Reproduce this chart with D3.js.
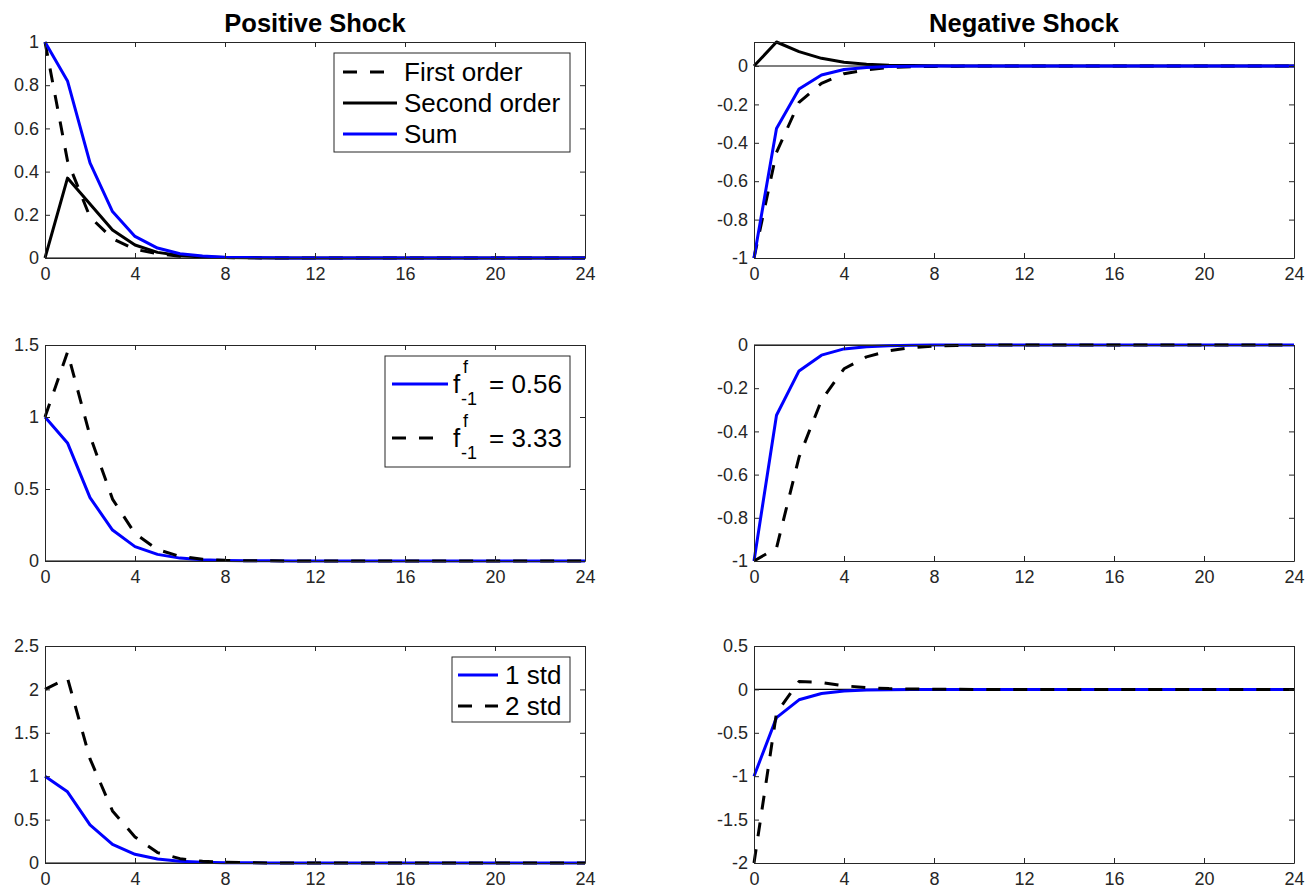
<!DOCTYPE html>
<html>
<head>
<meta charset="utf-8">
<script src="https://cdn.jsdelivr.net/npm/d3@7"></script>
<style>
  body { margin: 0; background: #fff; }
  text { font-family: "Liberation Sans", Arial, Helvetica, sans-serif; }
</style>
</head>
<body>
<div id="chart-area"></div>
<script>
// horizons (x axis)
var horizons = [0,1,2,3,4,5,6,7,8,9,10,11,12,13,14,15,16,17,18,19,20,21,22,23,24];
var xTicks = [0,4,8,12,16,20,24];

// positive shock, first row
var posFirst  = [1,0.45,0.19,0.09,0.04,0.02,0.008,0.004,0.002,0.001,0,0,0,0,0,0,0,0,0,0,0,0,0,0,0];
var posSecond = [0,0.37,0.25,0.13,0.06,0.026,0.012,0.005,0.002,0.001,0,0,0,0,0,0,0,0,0,0,0,0,0,0,0];
var posSum    = [1,0.82,0.44,0.215,0.1,0.046,0.02,0.009,0.004,0.002,0.001,0,0,0,0,0,0,0,0,0,0,0,0,0,0];

// negative shock, first row
var negFirst  = [-1,-0.45,-0.19,-0.09,-0.04,-0.02,-0.008,-0.004,-0.002,-0.001,0,0,0,0,0,0,0,0,0,0,0,0,0,0,0];
var negSecond = [0,0.125,0.075,0.04,0.02,0.009,0.004,0.002,0.001,0,0,0,0,0,0,0,0,0,0,0,0,0,0,0,0];
var negSum    = [-1,-0.325,-0.12,-0.047,-0.018,-0.008,-0.003,-0.001,0,0,0,0,0,0,0,0,0,0,0,0,0,0,0,0,0];

// second row: high f^f_{-1}
var posHighF = [1,1.45,0.87,0.43,0.19,0.08,0.032,0.012,0.005,0.002,0.001,0,0,0,0,0,0,0,0,0,0,0,0,0,0];
var negHighF = [-1,-0.94,-0.52,-0.255,-0.11,-0.055,-0.027,-0.012,-0.005,-0.002,-0.001,0,0,0,0,0,0,0,0,0,0,0,0,0,0];

// third row: 2 std shock
var pos2std = [2,2.13,1.2,0.6,0.3,0.12,0.05,0.02,0.008,0.003,0.001,0,0,0,0,0,0,0,0,0,0,0,0,0,0];
var neg2std = [-2,-0.27,0.09,0.08,0.042,0.02,0.009,0.004,0.002,0.001,0,0,0,0,0,0,0,0,0,0,0,0,0,0,0];

// y axis limits and ticks
var yDomTL = [0, 1],      yTicksTL = [0,0.2,0.4,0.6,0.8,1];
var yDomTR = [-1, 0.125], yTicksTR = [-1,-0.8,-0.6,-0.4,-0.2,0];
var yDomML = [0, 1.5],    yTicksML = [0,0.5,1,1.5];
var yDomMR = [-1, 0],     yTicksMR = [-1,-0.8,-0.6,-0.4,-0.2,0];
var yDomBL = [0, 2.5],    yTicksBL = [0,0.5,1,1.5,2,2.5];
var yDomBR = [-2, 0.5],   yTicksBR = [-2,-1.5,-1,-0.5,0,0.5];

var titles = ["Positive Shock", "Negative Shock"];

var BLUE = "#0000ff", BLACK = "#000000", AXIS = "#262626";
var DASH = "14,13";

var svg = d3.select("#chart-area")
    .append("svg")
        .attr("width", 1306)
        .attr("height", 890);

var colX = [45, 754];
var plotW = 540;
var rowY = [[42, 258], [345, 561], [646, 863]];

function fmt(d) { return String(Math.round(d * 100) / 100); }

function panel(col, row, yDom, yTicks, series) {
    var x = d3.scaleLinear().domain([0, 24]).range([colX[col], colX[col] + plotW]);
    var y = d3.scaleLinear().domain(yDom).range([rowY[row][1], rowY[row][0]]);
    var g = svg.append("g");

    // zero line
    g.append("line")
        .attr("x1", x(0)).attr("x2", x(24))
        .attr("y1", y(0)).attr("y2", y(0))
        .attr("stroke", BLACK)
        .attr("stroke-width", 1.2);

    var line = d3.line()
        .x(function(d, i) { return x(horizons[i]); })
        .y(function(d) { return y(d); });

    series.forEach(function(s) {
        g.append("path")
            .attr("d", line(s.values))
            .attr("fill", "none")
            .attr("stroke", s.color)
            .attr("stroke-width", 3)
            .attr("stroke-linejoin", "round")
            .attr("stroke-dasharray", s.dash ? DASH : null);
    });

    // axes, ticks inward
    var bottom = g.append("g")
        .attr("transform", "translate(0," + y.range()[0] + ")")
        .call(d3.axisBottom(x).tickValues(xTicks).tickSizeInner(-5).tickSizeOuter(0)
            .tickPadding(9).tickFormat(fmt));
    var top = g.append("g")
        .attr("transform", "translate(0," + y.range()[1] + ")")
        .call(d3.axisTop(x).tickValues(xTicks).tickSizeInner(-5).tickSizeOuter(0).tickFormat(""));
    var left = g.append("g")
        .attr("transform", "translate(" + x.range()[0] + ",0)")
        .call(d3.axisLeft(y).tickValues(yTicks).tickSizeInner(-5).tickSizeOuter(0)
            .tickPadding(6).tickFormat(fmt));
    var right = g.append("g")
        .attr("transform", "translate(" + x.range()[1] + ",0)")
        .call(d3.axisRight(y).tickValues(yTicks).tickSizeInner(-5).tickSizeOuter(0).tickFormat(""));

    [bottom, top, left, right].forEach(function(a) {
        a.attr("font-size", 18).attr("font-family", "Liberation Sans, Arial, sans-serif");
        a.select(".domain").attr("stroke", AXIS).attr("stroke-width", 1);
        a.selectAll(".tick line").attr("stroke", AXIS).attr("stroke-width", 1);
        a.selectAll(".tick text").attr("fill", AXIS);
    });

    if (row === 0) {
        g.append("text")
            .attr("x", (x.range()[0] + x.range()[1]) / 2)
            .attr("y", 32)
            .attr("text-anchor", "middle")
            .attr("font-size", "25.5px")
            .attr("font-weight", "bold")
            .attr("fill", BLACK)
            .text(titles[col]);
    }
}

panel(0, 0, yDomTL, yTicksTL, [
    {values: posFirst, color: BLACK, dash: true},
    {values: posSecond, color: BLACK, dash: false},
    {values: posSum, color: BLUE, dash: false}
]);
panel(1, 0, yDomTR, yTicksTR, [
    {values: negFirst, color: BLACK, dash: true},
    {values: negSecond, color: BLACK, dash: false},
    {values: negSum, color: BLUE, dash: false}
]);
panel(0, 1, yDomML, yTicksML, [
    {values: posSum, color: BLUE, dash: false},
    {values: posHighF, color: BLACK, dash: true}
]);
panel(1, 1, yDomMR, yTicksMR, [
    {values: negSum, color: BLUE, dash: false},
    {values: negHighF, color: BLACK, dash: true}
]);
panel(0, 2, yDomBL, yTicksBL, [
    {values: posSum, color: BLUE, dash: false},
    {values: pos2std, color: BLACK, dash: true}
]);
panel(1, 2, yDomBR, yTicksBR, [
    {values: negSum, color: BLUE, dash: false},
    {values: neg2std, color: BLACK, dash: true}
]);

// legends
function legendBox(x0, y0, x1, y1) {
    svg.append("rect")
        .attr("x", x0).attr("y", y0)
        .attr("width", x1 - x0).attr("height", y1 - y0)
        .attr("fill", "#fff")
        .attr("stroke", AXIS)
        .attr("stroke-width", 1);
}
function legendLine(x0, x1, yy, color, dash) {
    svg.append("line")
        .attr("x1", x0).attr("x2", x1)
        .attr("y1", yy).attr("y2", yy)
        .attr("stroke", color)
        .attr("stroke-width", 3)
        .attr("stroke-dasharray", dash ? DASH : null);
}
function legendText(x0, yy, str, size) {
    return svg.append("text")
        .attr("x", x0).attr("y", yy)
        .attr("font-size", (size || 26) + "px")
        .attr("fill", BLACK)
        .text(str);
}

// top-left legend
var leg1 = [
    {label: "First order", color: BLACK, dash: true},
    {label: "Second order", color: BLACK, dash: false},
    {label: "Sum", color: BLUE, dash: false}
];
legendBox(334, 53, 570, 152);
leg1.forEach(function(d, i) {
    var yy = 72 + i * 31;
    legendLine(343, 397, yy, d.color, d.dash);
    legendText(404, yy + 9, d.label);
});

// middle-left legend
var leg2 = [
    {value: "0.56", color: BLUE, dash: false},
    {value: "3.33", color: BLACK, dash: true}
];
legendBox(385, 356, 570, 467);
leg2.forEach(function(d, i) {
    var yy = 384 + i * 54;
    legendLine(392, d.dash ? 433 : 448, yy, d.color, d.dash);
    legendText(453, yy + 9, "f");
    legendText(463, yy - 11, "f", 18);
    legendText(461, yy + 21, "-1", 18);
    legendText(489, yy + 9, "= " + d.value);
});

// bottom-left legend
var leg3 = [
    {label: "1 std", color: BLUE, dash: false},
    {label: "2 std", color: BLACK, dash: true}
];
legendBox(452, 657, 570, 722);
leg3.forEach(function(d, i) {
    var yy = 675 + i * 31;
    legendLine(458, 498, yy, d.color, d.dash);
    legendText(505, yy + 9, d.label);
});
</script>
</body>
</html>
